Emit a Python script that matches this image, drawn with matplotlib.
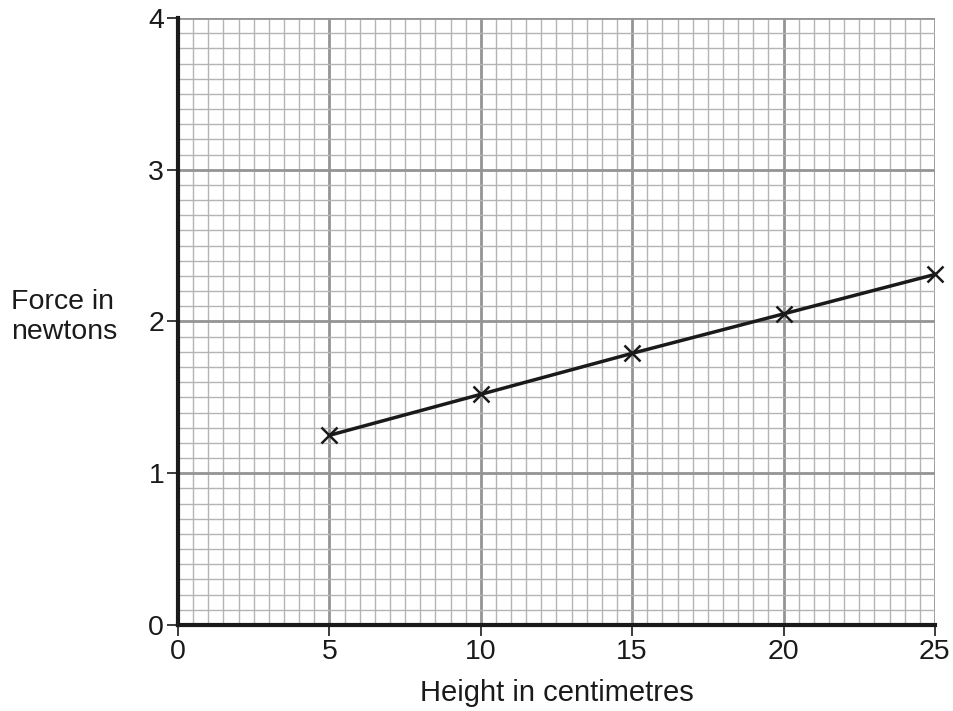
import matplotlib
matplotlib.use("Agg")
import matplotlib.pyplot as plt
from matplotlib.ticker import MultipleLocator

plt.rcParams['font.family'] = ['Liberation Sans', 'DejaVu Sans']

height_cm = [5, 10, 15, 20, 25]
force_n = [1.25, 1.52, 1.79, 2.05, 2.31]
x_ticks = [0, 5, 10, 15, 20, 25]
y_ticks = [0, 1, 2, 3, 4]

fig = plt.figure(figsize=(9.54, 7.11), dpi=100)
ax = fig.add_axes([0.1866, 0.121, 0.7934, 0.8537])
ax.set_xlim(0, 25)
ax.set_ylim(0, 4)

ax.xaxis.set_minor_locator(MultipleLocator(0.5))
ax.yaxis.set_minor_locator(MultipleLocator(0.1))
ax.set_xticks(x_ticks)
ax.set_yticks(y_ticks)

ax.grid(which='minor', color='#b4b4b4', linewidth=1.0)
ax.grid(which='major', color='#949494', linewidth=2.0)
ax.set_axisbelow(True)

for s in ['top', 'right']:
    ax.spines[s].set_visible(False)
for s in ['left', 'bottom']:
    ax.spines[s].set_linewidth(3)
    ax.spines[s].set_color('#1a1a1a')
    ax.spines[s].set_zorder(5)

ax.tick_params(which='minor', length=0)
ax.tick_params(which='major', direction='out', length=8, width=1.2, color='#1a1a1a',
               labelsize=20.5, pad=2, labelcolor='#1a1a1a')

ax.plot(height_cm, force_n, color='#1a1a1a', linewidth=2.5, marker='x',
        markersize=12, markeredgewidth=1.8, clip_on=False, zorder=4)

ax.set_xlabel('Height in centimetres', fontsize=21, labelpad=10, color='#1a1a1a')
fig.text(0.0115, 0.554, 'Force in\nnewtons', fontsize=20.5, ha='left', va='center',
         linespacing=1.2, color='#1a1a1a')

fig.savefig('out.png', dpi=100)
